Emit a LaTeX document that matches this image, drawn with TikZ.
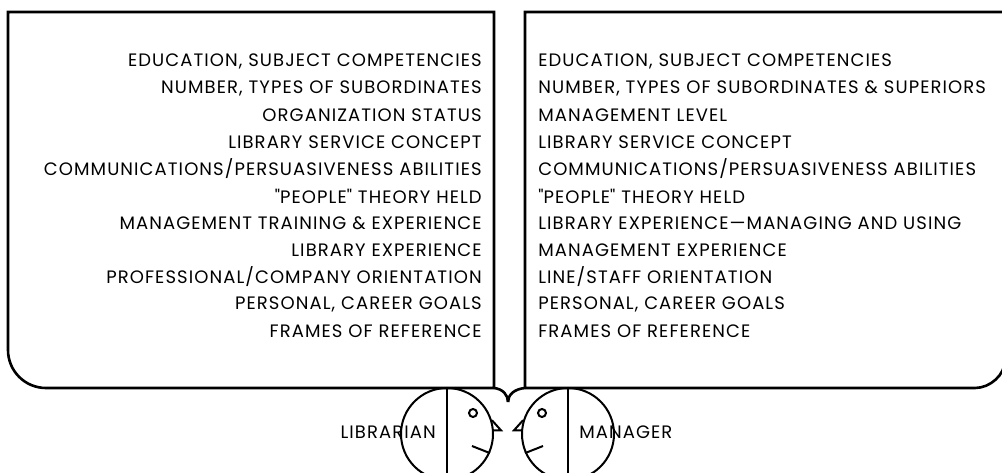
\documentclass[tikz,border=0pt]{standalone}
\usepackage{fontspec}
\setmainfont{Poppins}[LetterSpace=6]
\usepackage{tikz}

\begin{document}
\begin{tikzpicture}
[x=1pt, y=-1pt, line width=2.6pt,
 item/.style={inner sep=0pt, font=\fontsize{18}{21}\selectfont},
 face/.style={circle, draw, line width=2pt, minimum size=92pt, inner sep=0pt},
 eye/.style={circle, draw, line width=2pt, minimum size=8pt, inner sep=0pt}]
\useasboundingbox (0,0) rectangle (1002,473);

\draw (494,388) -- (494,12) -- (8,12) -- (8,350) .. controls (8,371) and (25,388) .. (46,388) -- (494,388);
\draw (525,388) -- (525,12) -- (1005,12) -- (1005,360) .. controls (1005,375) and (990,388) .. (975,388) -- (525,388);
\draw (494,388) .. controls (503,389) and (508,395) .. (508,402);
\draw (525,388) .. controls (514,389) and (508,395) .. (508,402);

\foreach \t [count=\i] in {{EDUCATION, SUBJECT COMPETENCIES},{NUMBER, TYPES OF SUBORDINATES},
  {ORGANIZATION STATUS},{LIBRARY SERVICE CONCEPT},{COMMUNICATIONS/PERSUASIVENESS ABILITIES},
  {\textquotedbl PEOPLE\textquotedbl{} THEORY HELD},{MANAGEMENT TRAINING \& EXPERIENCE},{LIBRARY EXPERIENCE},
  {PROFESSIONAL/COMPANY ORIENTATION},{PERSONAL, CAREER GOALS},{FRAMES OF REFERENCE}}
	\node[item, anchor=east] (l\i) at (483,34+27*\i) {\t};

\foreach \t [count=\i] in {{EDUCATION, SUBJECT COMPETENCIES},{NUMBER, TYPES OF SUBORDINATES \& SUPERIORS},
  {MANAGEMENT LEVEL},{LIBRARY SERVICE CONCEPT},{COMMUNICATIONS/PERSUASIVENESS ABILITIES},
  {\textquotedbl PEOPLE\textquotedbl{} THEORY HELD},{LIBRARY EXPERIENCE—MANAGING AND USING},{MANAGEMENT EXPERIENCE},
  {LINE/STAFF ORIENTATION},{PERSONAL, CAREER GOALS},{FRAMES OF REFERENCE}}
	\node[item, anchor=west] (r\i) at (537,34+27*\i) {\t};

\node[face] (lib) at (447,434) {};
\node[face] (mgr) at (568,434) {};
\node[eye] (libeye) at (473,413) {};
\node[eye] (mgreye) at (542,413) {};
\node[item, anchor=east] (libname) at (437,432) {LIBRARIAN};
\node[item, anchor=west] (mgrname) at (578,432) {MANAGER};

\draw[line width=2pt] (lib.north) -- (lib.south);
\draw[line width=2pt] (mgr.north) -- (mgr.south);
\draw[line width=2pt] (lib.17) -- ++(9,10) -- ++(-8,0);
\draw[line width=2pt] (mgr.163) -- ++(-9,10) -- ++(8,0);
\draw[line width=2pt] (472,446) -- (lib.-24);
\draw[line width=2pt] (543,446) -- (mgr.204);

\end{tikzpicture}
\end{document}
